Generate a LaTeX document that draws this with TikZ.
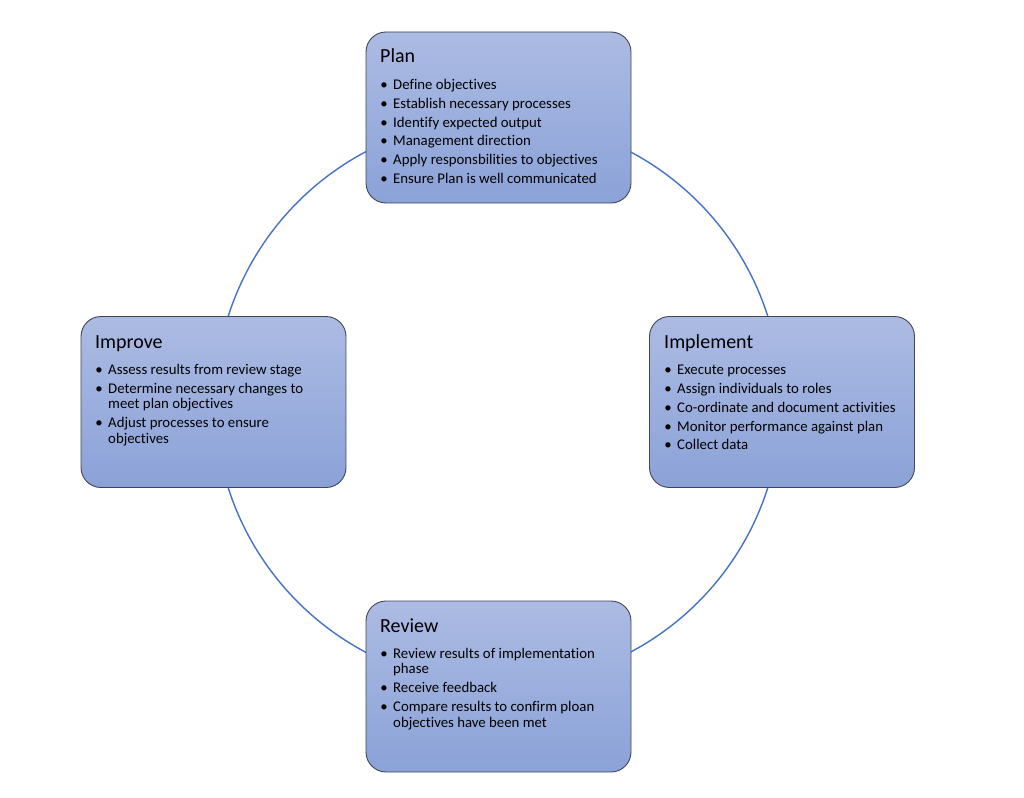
\documentclass[tikz,border=0pt]{standalone}
\usepackage{fontspec}
\setmainfont[Ligatures=CommonOff]{Carlito}
\usepackage{enumitem}

\definecolor{boxtop}{RGB}{172,187,227}
\definecolor{boxbot}{RGB}{139,162,216}
\definecolor{boxline}{RGB}{65,70,80}
\definecolor{ringcol}{RGB}{68,114,196}

\tikzset{
  stagebox/.style={draw=boxline, line width=0.9pt, rounded corners=20pt,
    top color=boxtop, bottom color=boxbot,
    minimum width=265pt, minimum height=171pt, inner sep=0pt},
  stagetext/.style={anchor=base west, inner sep=0pt}
}

% title and bullet list of one stage
\newcommand{\stagetext}[2]{%
  \begin{minipage}[t]{240pt}
    \fontsize{20}{24}\selectfont #1\par\vspace{10.8pt}
    \fontsize{14.8}{15.5}\selectfont
    \begin{itemize}[leftmargin=13pt,labelsep=5.5pt,itemsep=3.4pt,parsep=0pt,topsep=0pt,partopsep=0pt]
      #2
    \end{itemize}
  \end{minipage}}

\begin{document}
\begin{tikzpicture}[x=1pt,y=-1pt]
\useasboundingbox (0,0) rectangle (1024,797);

% the cycle
\node[draw=ringcol, line width=1.4pt, circle, minimum size=566pt] (ring) at (498,402) {};

% boxes
\node[stagebox] (plan) at (498.5,117.5) {};
\node[stagebox] (implement) at (782,402) {};
\node[stagebox] (review) at (498.5,686.5) {};
\node[stagebox] (improve) at (213.5,402) {};

% texts
\node[stagetext] (plantext) at (380,63) {\stagetext{Plan}{
  \item Define objectives
  \item Establish necessary processes
  \item Identify expected output
  \item Management direction
  \item Apply responsbilities to objectives
  \item Ensure Plan is well communicated}};
\node[stagetext] (implementtext) at (664,348) {\stagetext{Implement}{
  \item Execute processes
  \item Assign individuals to roles
  \item Co-ordinate and document activities
  \item Monitor performance against plan
  \item Collect data}};
\node[stagetext] (reviewtext) at (380,632) {\stagetext{Review}{
  \item Review results of implementation\newline phase
  \item Receive feedback
  \item Compare results to confirm ploan\newline objectives have been met}};
\node[stagetext] (improvetext) at (95,348) {\stagetext{Improve}{
  \item Assess results from review stage
  \item Determine necessary changes to\newline meet plan objectives
  \item Adjust processes to ensure\newline objectives}};

\end{tikzpicture}
\end{document}
